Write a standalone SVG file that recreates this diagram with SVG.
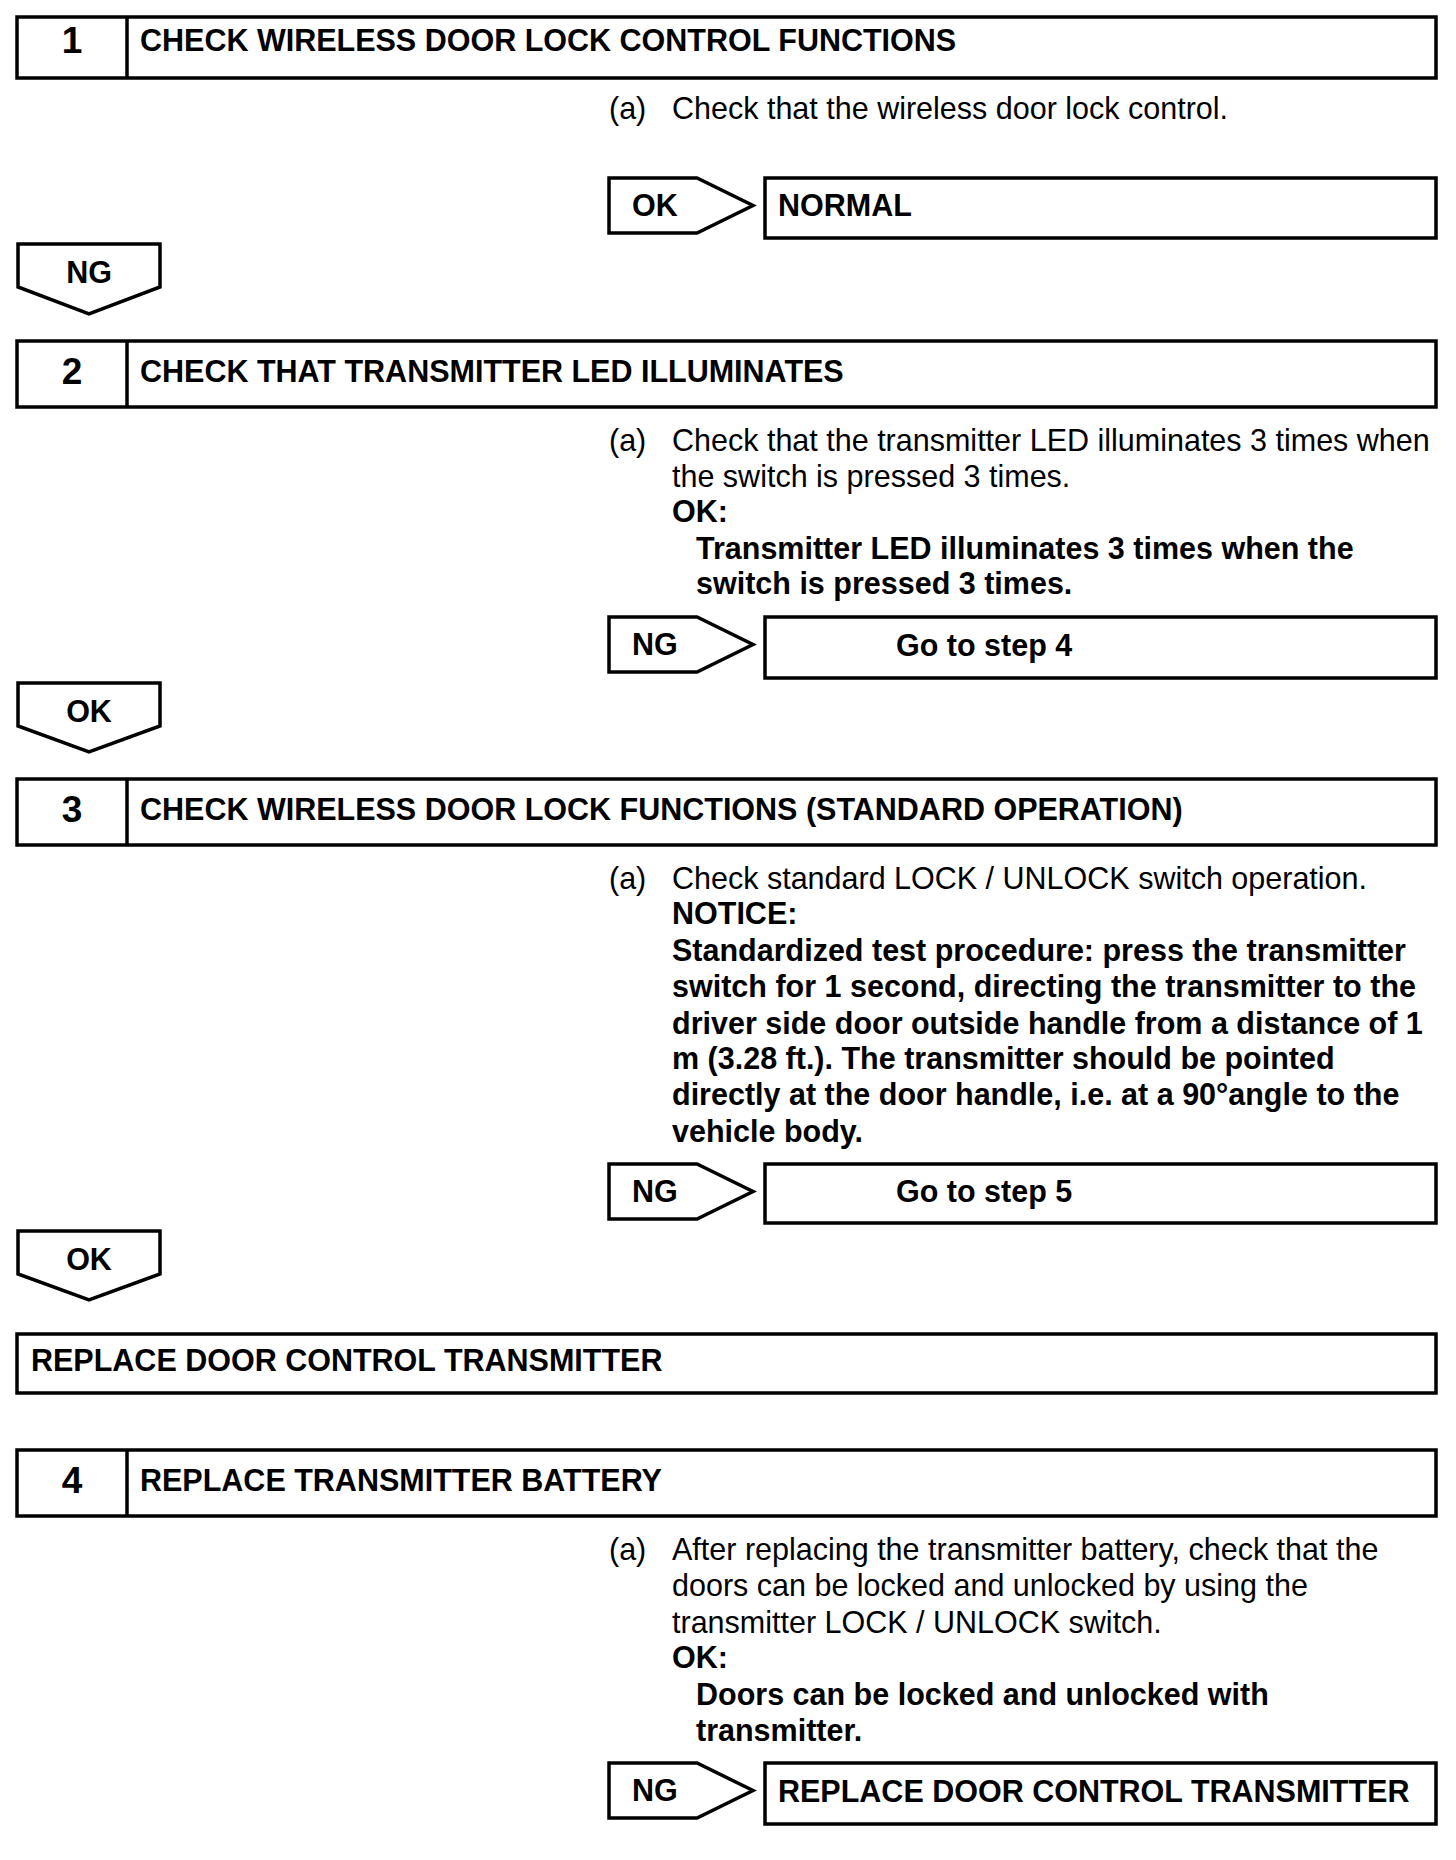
<svg xmlns="http://www.w3.org/2000/svg" width="1456" height="1860" viewBox="0 0 1456 1860">
<style>
.box{fill:#fff;stroke:#000;stroke-width:3.5}
.t{font-family:"Liberation Sans",Arial,sans-serif;font-size:30.5px;fill:#000}
.b{font-weight:bold}
.num{font-family:"Liberation Sans",Arial,sans-serif;font-size:37px;font-weight:bold;text-anchor:middle}
.mid{text-anchor:middle}
</style>
<rect width="1456" height="1860" fill="#fff"/>

<g id="step1">
<rect class="box" x="17" y="17" width="1419" height="61"/>
<line class="box" x1="127" y1="17" x2="127" y2="78"/>
<text class="num" x="72" y="53">1</text>
<text class="t b" x="140" y="51">CHECK WIRELESS DOOR LOCK CONTROL FUNCTIONS</text>
</g>
<g id="step1-text">
<text class="t" x="609" y="119">(a)</text>
<text class="t" x="672" y="119">Check that the wireless door lock control.</text>
</g>
<g id="normal">
<rect class="box" x="765" y="178" width="671" height="60"/>
<text class="t b" x="778" y="216">NORMAL</text>
</g>

<g id="step2">
<rect class="box" x="17" y="341" width="1419" height="66"/>
<line class="box" x1="127" y1="341" x2="127" y2="407"/>
<text class="num" x="72" y="384">2</text>
<text class="t b" x="140" y="382">CHECK THAT TRANSMITTER LED ILLUMINATES</text>
</g>
<g id="step2-text">
<text class="t" x="609" y="451">(a)</text>
<text class="t" x="672" y="451">Check that the transmitter LED illuminates 3 times when</text>
<text class="t" x="672" y="487">the switch is pressed 3 times.</text>
<text class="t b" x="672" y="522">OK:</text>
<text class="t b" x="696" y="559">Transmitter LED illuminates 3 times when the</text>
<text class="t b" x="696" y="594">switch is pressed 3 times.</text>
</g>
<g id="goto4">
<rect class="box" x="765" y="617" width="671" height="61"/>
<text class="t b" x="896" y="656">Go to step 4</text>
</g>

<g id="step3">
<rect class="box" x="17" y="779" width="1419" height="66"/>
<line class="box" x1="127" y1="779" x2="127" y2="845"/>
<text class="num" x="72" y="822">3</text>
<text class="t b" x="140" y="820">CHECK WIRELESS DOOR LOCK FUNCTIONS (STANDARD OPERATION)</text>
</g>
<g id="step3-text">
<text class="t" x="609" y="889">(a)</text>
<text class="t" x="672" y="889">Check standard LOCK / UNLOCK switch operation.</text>
<text class="t b" x="672" y="924">NOTICE:</text>
<text class="t b" x="672" y="961">Standardized test procedure: press the transmitter</text>
<text class="t b" x="672" y="997">switch for 1 second, directing the transmitter to the</text>
<text class="t b" x="672" y="1034">driver side door outside handle from a distance of 1</text>
<text class="t b" x="672" y="1069">m (3.28 ft.). The transmitter should be pointed</text>
<text class="t b" x="672" y="1105">directly at the door handle, i.e. at a 90°angle to the</text>
<text class="t b" x="672" y="1142">vehicle body.</text>
</g>
<g id="goto5">
<rect class="box" x="765" y="1164" width="671" height="59"/>
<text class="t b" x="896" y="1202">Go to step 5</text>
</g>

<g id="replace1">
<rect class="box" x="17" y="1334" width="1419" height="59"/>
<text class="t b" x="31" y="1371">REPLACE DOOR CONTROL TRANSMITTER</text>
</g>

<g id="step4">
<rect class="box" x="17" y="1450" width="1419" height="66"/>
<line class="box" x1="127" y1="1450" x2="127" y2="1516"/>
<text class="num" x="72" y="1493">4</text>
<text class="t b" x="140" y="1491">REPLACE TRANSMITTER BATTERY</text>
</g>
<g id="step4-text">
<text class="t" x="609" y="1560">(a)</text>
<text class="t" x="672" y="1560">After replacing the transmitter battery, check that the</text>
<text class="t" x="672" y="1596">doors can be locked and unlocked by using the</text>
<text class="t" x="672" y="1633">transmitter LOCK / UNLOCK switch.</text>
<text class="t b" x="672" y="1668">OK:</text>
<text class="t b" x="696" y="1705">Doors can be locked and unlocked with</text>
<text class="t b" x="696" y="1741">transmitter.</text>
</g>
<g id="replace2">
<rect class="box" x="765" y="1763" width="671" height="61"/>
<text class="t b" x="778" y="1802">REPLACE DOOR CONTROL TRANSMITTER</text>
</g>

<g id="connectors">
<g id="ok1">
<path class="box" d="M609,178 H697 L753,205.5 L697,233 H609 Z"/>
<text class="t b" x="632" y="216">OK</text>
</g>
<g id="ng1">
<path class="box" d="M18,244 V287 L89,314 L160,287 V244 Z"/>
<text class="t b mid" x="89" y="283">NG</text>
</g>
<g id="ng2">
<path class="box" d="M609,617 H697 L753,644.5 L697,672 H609 Z"/>
<text class="t b" x="632" y="655">NG</text>
</g>
<g id="ok2">
<path class="box" d="M18,683 V726 L89,752 L160,726 V683 Z"/>
<text class="t b mid" x="89" y="722">OK</text>
</g>
<g id="ng3">
<path class="box" d="M609,1164 H697 L753,1191.5 L697,1219 H609 Z"/>
<text class="t b" x="632" y="1202">NG</text>
</g>
<g id="ok3">
<path class="box" d="M18,1231 V1274 L89,1300 L160,1274 V1231 Z"/>
<text class="t b mid" x="89" y="1270">OK</text>
</g>
<g id="ng4">
<path class="box" d="M609,1763 H697 L753,1790.5 L697,1818 H609 Z"/>
<text class="t b" x="632" y="1801">NG</text>
</g>
</g>
</svg>
